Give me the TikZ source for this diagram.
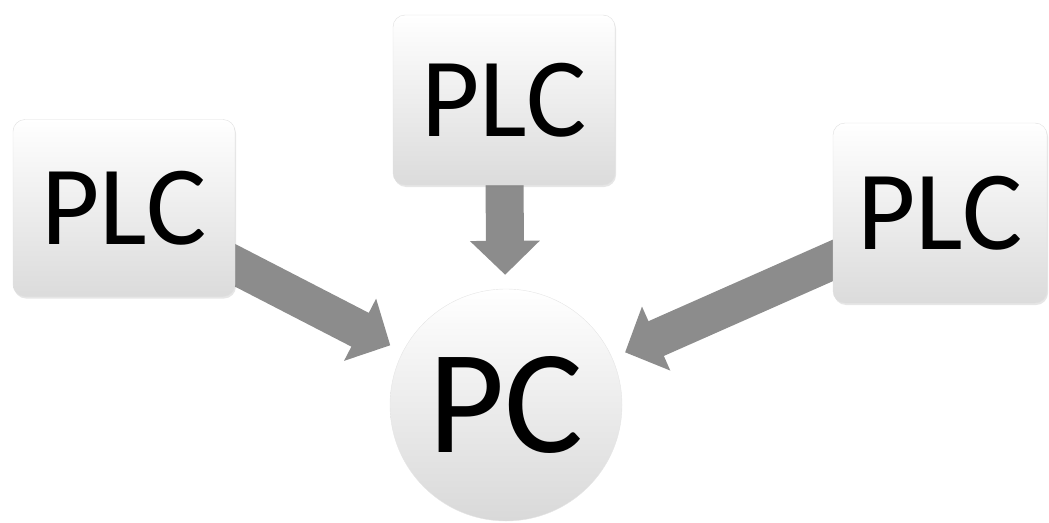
\documentclass[tikz,border=0pt]{standalone}
\usepackage{fontspec}
\setmainfont{Carlito}
\usetikzlibrary{arrows.meta,shadows,backgrounds}

\begin{document}
\begin{tikzpicture}[x=1pt,y=-1pt,
  plcbox/.style={draw=gray!25,rounded corners=12pt,top color=white,bottom color=gray!28,
    drop shadow={opacity=0.2,shadow xshift=1pt,shadow yshift=-2pt},
    inner sep=0pt,font=\fontsize{113}{113}\selectfont},
  pcball/.style={circle,draw=gray!20,top color=white,bottom color=gray!30,
    minimum size=232pt,inner sep=0pt,font=\fontsize{148}{148}\selectfont},
  feed/.style={line width=38pt,black!45,-{Triangle[length=34pt,width=68pt]},shorten >=14pt}]

\useasboundingbox (0,0) rectangle (1049,522);

% --- nodes ---
\node[plcbox,minimum width=222pt,minimum height=177pt] (plcL) at (124,208) {PLC};
\node[plcbox,minimum width=222pt,minimum height=170pt] (plcT) at (504,100) {PLC};
\node[plcbox,minimum width=214pt,minimum height=180pt] (plcR) at (940,213) {PLC};
\node[pcball] (pc) at (506,405) {PC};

% --- arrows ---
\begin{pgfonlayer}{background}
  \draw[feed] (plcL.center) -- (pc);
  \draw[feed] (plcT.center) -- (pc);
  \draw[feed] (plcR.center) -- (pc);
\end{pgfonlayer}

\end{tikzpicture}
\end{document}
